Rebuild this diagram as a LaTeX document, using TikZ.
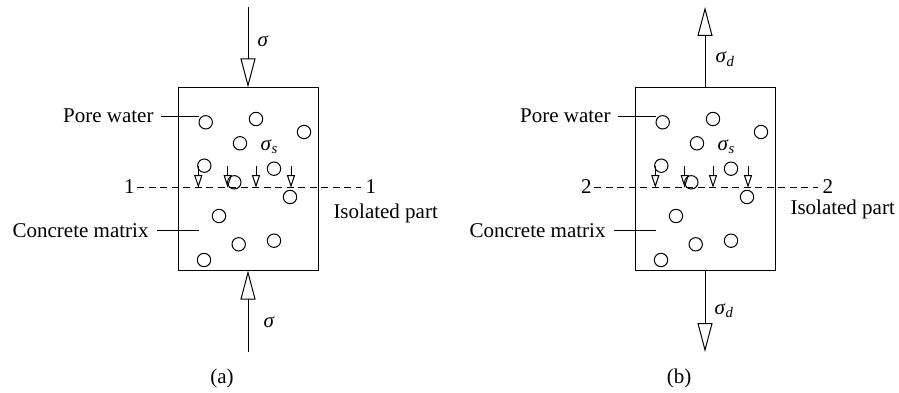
\documentclass[tikz,border=0pt]{standalone}
\usepackage{fontspec}
\setmainfont{Liberation Serif}
\usetikzlibrary{arrows.meta}
\tikzset{
  lbl/.style={font=\fontsize{21}{25}\selectfont, inner sep=0pt},
  bigtip/.style={-{Triangle[open,length=29pt,width=15pt]}},
  smalltip/.style={-{Triangle[open,length=12.5pt,width=8pt]}},
  pore/.style={circle,draw,minimum size=13.4pt,inner sep=0pt},
  specimen/.style={draw,minimum width=140pt,minimum height=182pt,inner sep=0pt},
  cut/.style={dash pattern=on 7pt off 4.5pt},
}
\begin{document}
\begin{tikzpicture}[x=1pt,y=-1pt,line width=1pt]
\useasboundingbox (0,0) rectangle (899,393);
% ---------- panel (a) ----------
\node[specimen] (boxA) at (248,179) {};
\coordinate (topA) at (248,7);
\coordinate (botA) at (248,352);
\draw[bigtip] (topA) -- (boxA.north);
\draw[bigtip] (botA) -- (boxA.south);
\node[lbl,anchor=base west] (sigTopA) at (257,47) {\textit{σ}};
\node[lbl,anchor=base west] (sigBotA) at (263,327) {\textit{σ}};
\node[lbl,anchor=base west] (sigsA) at (260,150) {\textit{σ}\textsubscript{\textit{s}}};
\foreach \px/\py [count=\i] in {205.7/122.3,256/119,304/132,240/143.3,204.3/165.7,274/168.7,234.3/182.3,290/197,219/216,238.7/244.3,274/240.7,204/260}
  \node[pore] (pA\i) at (\px,\py) {};
\foreach \ax [count=\i] in {198.3,227.7,256,291}{
  \coordinate (saA\i) at (\ax,165.7);
  \coordinate (seA\i) at (\ax,187.7);
  \draw[smalltip] (saA\i) -- (seA\i);
}
\node[lbl,anchor=base east] (pwA) at (154,123) {Pore water};
\draw ([xshift=7pt]pwA.east) -- (pA1.west |- pwA.east);
\node[lbl,anchor=base east] (cmA) at (149,237) {Concrete matrix};
\draw ([xshift=8pt]cmA.east) -- ++(41.5,0);
\node[lbl,anchor=base east] (oneL) at (135,193) {1};
\node[lbl,anchor=base west] (oneR) at (365,193) {1};
\draw[cut] ([xshift=2pt]oneL.east |- seA1) -- ([xshift=-4pt]oneR.west |- seA1);
\node[lbl,anchor=base west] (isoA) at (333,218) {Isolated part};
\node[lbl,anchor=base] (capA) at (222,383) {(a)};
% ---------- panel (b) ----------
\node[specimen] (boxB) at (705,179) {};
\coordinate (topB) at (705,7);
\coordinate (botB) at (705,352);
\draw[bigtip] (boxB.north) -- (topB);
\draw[bigtip] (boxB.south) -- (botB);
\node[lbl,anchor=base west] (sigTopB) at (715,63) {\textit{σ}\textsubscript{\textit{d}}};
\node[lbl,anchor=base west] (sigBotB) at (714,314) {\textit{σ}\textsubscript{\textit{d}}};
\node[lbl,anchor=base west] (sigsB) at (717,150) {\textit{σ}\textsubscript{\textit{s}}};
\foreach \px/\py [count=\i] in {205.7/122.3,256/119,304/132,240/143.3,204.3/165.7,274/168.7,234.3/182.3,290/197,219/216,238.7/244.3,274/240.7,204/260}
  \node[pore] (pB\i) at (\px+457,\py) {};
\foreach \ax [count=\i] in {198.3,227.7,256,291}{
  \coordinate (saB\i) at (\ax+457,165.7);
  \coordinate (seB\i) at (\ax+457,187.7);
  \draw[smalltip] (saB\i) -- (seB\i);
}
\node[lbl,anchor=base east] (pwB) at (611,123) {Pore water};
\draw ([xshift=7pt]pwB.east) -- (pB1.west |- pwB.east);
\node[lbl,anchor=base east] (cmB) at (606,237) {Concrete matrix};
\draw ([xshift=8pt]cmB.east) -- ++(41.5,0);
\node[lbl,anchor=base east] (twoL) at (592,193) {2};
\node[lbl,anchor=base west] (twoR) at (822,193) {2};
\draw[cut] ([xshift=2pt]twoL.east |- seB1) -- ([xshift=-4pt]twoR.west |- seB1);
\node[lbl,anchor=base west] (isoB) at (790,214) {Isolated part};
\node[lbl,anchor=base] (capB) at (679,383) {(b)};
\end{tikzpicture}
\end{document}
